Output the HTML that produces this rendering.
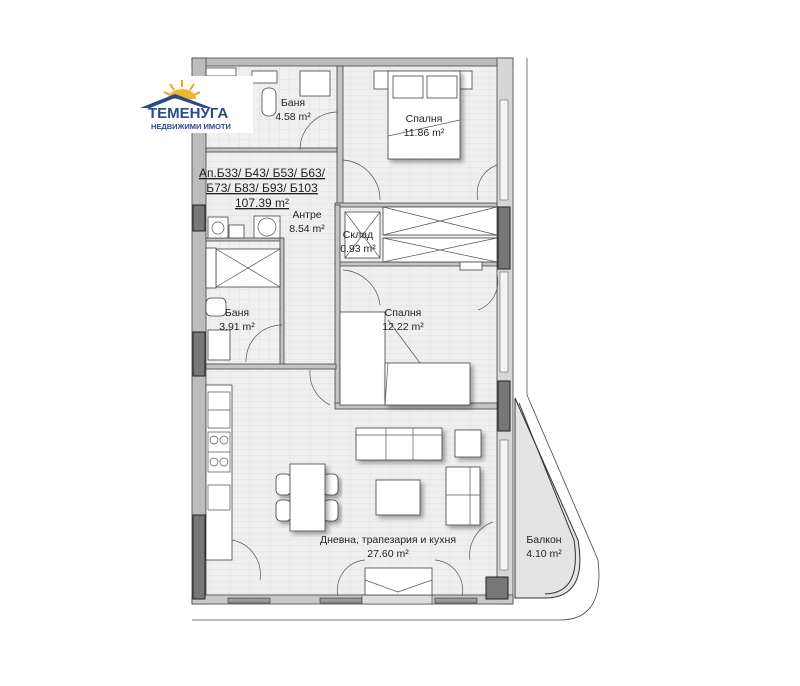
<!DOCTYPE html>
<html><head><meta charset="utf-8"><style>
html,body{margin:0;padding:0;background:#fff;}
svg{display:block}
text{font-family:"Liberation Sans",sans-serif;fill:#222;}
</style></head><body>
<svg width="800" height="686" viewBox="0 0 800 686" xmlns="http://www.w3.org/2000/svg">
<defs>
<filter id="sh" x="-20%" y="-20%" width="150%" height="150%"><feDropShadow dx="3" dy="3" stdDeviation="2.5" flood-color="#000" flood-opacity="0.35"/></filter>
<pattern id="fl" width="20" height="6" patternUnits="userSpaceOnUse"><rect width="20" height="6" fill="#efefef"/><path d="M0 5.5H20M10 0V6" stroke="#e2e2e2" stroke-width="0.6"/></pattern>
<pattern id="tl" width="10" height="10" patternUnits="userSpaceOnUse"><rect width="10" height="10" fill="#f0f0f0"/><path d="M0 9.5H10M9.5 0V10" stroke="#e0e0e0" stroke-width="0.6"/></pattern>
</defs>
<!-- balcony -->
<path d="M515 398 L578 540 Q588 598 545 598 L515 598 Z" fill="#e4e4e4" stroke="#333" stroke-width="1"/>
<path d="M519 403 L574 540 Q582 593 545 594" fill="none" stroke="#333" stroke-width="1"/>
<path d="M527 395 L598 560 Q605 620 560 620 L192 620" fill="none" stroke="#444" stroke-width="0.8"/>
<line x1="527" y1="58" x2="527" y2="395" stroke="#555" stroke-width="0.8"/>
<!-- floors -->
<rect x="206" y="66" width="292" height="530" fill="url(#fl)"/>
<rect x="206" y="66" width="131" height="84" fill="url(#tl)"/>
<rect x="206" y="240" width="74" height="120" fill="url(#tl)"/>
<!-- outer walls -->
<rect x="192" y="58" width="321" height="8" fill="#bcbcbc" stroke="#444" stroke-width="0.8"/>
<rect x="192" y="58" width="14" height="546" fill="#bcbcbc" stroke="#444" stroke-width="0.8"/>
<rect x="497" y="58" width="16" height="546" fill="#d6d6d6" stroke="#444" stroke-width="0.8"/>
<rect x="192" y="595" width="321" height="9" fill="#c8c8c8" stroke="#444" stroke-width="0.8"/>
<!-- dark window jambs -->
<rect x="193" y="205" width="12" height="26" fill="#777" stroke="#222"/>
<rect x="193" y="332" width="12" height="44" fill="#777" stroke="#222"/>
<rect x="193" y="515" width="12" height="84" fill="#777" stroke="#222"/>
<rect x="498" y="207" width="12" height="62" fill="#777" stroke="#222"/>
<rect x="498" y="381" width="12" height="50" fill="#777" stroke="#222"/>
<rect x="486" y="577" width="22" height="22" fill="#777" stroke="#222"/>
<!-- windows in right wall (light) -->
<rect x="500" y="100" width="8" height="100" fill="#f4f4f4" stroke="#666" stroke-width="0.6"/>
<rect x="500" y="272" width="8" height="100" fill="#f4f4f4" stroke="#666" stroke-width="0.6"/>
<rect x="500" y="440" width="8" height="130" fill="#f4f4f4" stroke="#666" stroke-width="0.6"/>
<!-- bottom windows -->
<rect x="228" y="598" width="42" height="5" fill="#999" stroke="#333" stroke-width="0.6"/>
<rect x="320" y="598" width="42" height="5" fill="#999" stroke="#333" stroke-width="0.6"/>
<rect x="362" y="595" width="70" height="9" fill="#ddd" stroke="#333" stroke-width="0.6"/>
<rect x="435" y="598" width="42" height="5" fill="#999" stroke="#333" stroke-width="0.6"/>
<!-- interior walls -->
<g fill="#c4c4c4" stroke="#444" stroke-width="0.8">
<rect x="337" y="66" width="6" height="140"/>
<rect x="206" y="148" width="131" height="4"/>
<rect x="335" y="203" width="162" height="4"/>
<rect x="335" y="262" width="162" height="4"/>
<rect x="335" y="205" width="5" height="200"/>
<rect x="335" y="403" width="162" height="6"/>
<rect x="206" y="238" width="76" height="3"/>
<rect x="280" y="238" width="4" height="128"/>
<rect x="206" y="364" width="130" height="5"/>
</g>
<!-- bath1 fixtures -->
<g fill="#fff" stroke="#444" stroke-width="0.8">
<rect x="252" y="71" width="25" height="12"/>
<rect x="300" y="71" width="30" height="25"/>
<rect x="262" y="88" width="14" height="28" rx="6"/>
<rect x="206" y="68" width="30" height="8"/>
<!-- wardrobe & storage -->
<rect x="383" y="207" width="114" height="28"/>
<rect x="383" y="238" width="114" height="24"/>
<rect x="460" y="262" width="22" height="8"/>
<rect x="345" y="212" width="35" height="46"/>
<!-- washer -->
<rect x="208" y="217" width="20" height="21"/>
<rect x="229" y="225" width="15" height="13"/>
<rect x="254" y="216" width="26" height="22"/>
<!-- bath2 -->
<rect x="216" y="249" width="64" height="38"/>
<rect x="206" y="248" width="10" height="40"/>
<rect x="206" y="298" width="20" height="18" rx="5"/>
<rect x="208" y="330" width="22" height="30"/>
<!-- bed1 -->
<rect x="374" y="71" width="20" height="18"/>
<rect x="452" y="71" width="20" height="18"/>
<rect x="388" y="71" width="72" height="88" filter="url(#sh)"/>
<rect x="393" y="76" width="30" height="22"/>
<rect x="427" y="76" width="30" height="22"/>
<!-- bed2 -->
<rect x="340" y="312" width="45" height="93"/>
<rect x="385" y="363" width="85" height="42" filter="url(#sh)"/>
<!-- kitchen -->
<rect x="206" y="385" width="26" height="175"/>
<rect x="356" y="428" width="86" height="32" filter="url(#sh)"/>
<rect x="455" y="430" width="26" height="27" filter="url(#sh)"/>
<rect x="446" y="467" width="34" height="58" filter="url(#sh)"/>
<rect x="376" y="480" width="44" height="35" filter="url(#sh)"/>
<rect x="276" y="474" width="15" height="21" rx="5" filter="url(#sh)"/>
<rect x="276" y="500" width="15" height="21" rx="5" filter="url(#sh)"/>
<rect x="323" y="474" width="15" height="21" rx="5" filter="url(#sh)"/>
<rect x="323" y="500" width="15" height="21" rx="5" filter="url(#sh)"/>
<rect x="290" y="464" width="35" height="67" filter="url(#sh)"/>
<rect x="365" y="568" width="67" height="27"/>
</g>
<g fill="none" stroke="#555" stroke-width="0.7">
<path d="M216 249L280 287M280 249L216 287M383 207L497 235M497 207L383 235M383 238L497 262M497 238L383 262M345 212L380 258M380 212L345 258M388 136L460 120M388 363L385 405M388 320L420 363"/>
<circle cx="218" cy="228" r="6"/><circle cx="267" cy="227" r="9"/>
<path d="M386 428V460M413 428V460M442 435H356M470 467V525M446 495H480"/>
<path d="M208 392h22v36h-22zM208 410h22M208 432h22v40h-22zM208 452h22"/>
<circle cx="214" cy="440" r="4"/><circle cx="224" cy="440" r="4"/><circle cx="214" cy="462" r="4"/><circle cx="224" cy="462" r="4"/>
<path d="M208 485h22v25h-22z"/>
<!-- door arcs -->
<path d="M337 112 A38 38 0 0 0 300 150M343 160 A40 40 0 0 1 380 200M343 270 A40 40 0 0 1 380 305M282 325 A36 36 0 0 0 246 362M310 370 A36 36 0 0 0 330 405M232 540 A35 35 0 0 1 260 580M493 522 A35 35 0 0 0 470 560M365 560 A30 30 0 0 0 338 596M435 560 A30 30 0 0 1 462 596M365 580L398 592L432 580"/>
<path d="M497 165 A30 30 0 0 0 478 200M497 275 A30 30 0 0 1 478 310"/>
</g>
<!-- logo -->
<rect x="141" y="76" width="112" height="57" fill="#fff"/>
<g stroke="#e8a21c" stroke-width="2"><path d="M182 80v7M170 84l4 6M194 84l-4 6M164 92l6 3M200 92l-6 3"/></g>
<path d="M168 99 A14 10 0 0 1 196 99Z" fill="#f3b62a"/>
<path d="M140 108 L175 94 L212 108 L204 108 L175 98 L150 108Z" fill="#2a4a8c"/>
<text x="148" y="118" font-size="15" font-weight="bold" fill="#2a4a8c" style="fill:#2a4a8c">ТЕМЕНУГА</text>
<text x="151" y="129" font-size="7.5" font-weight="bold" style="fill:#2a4a8c">НЕДВИЖИМИ ИМОТИ</text>
<!-- labels -->
<g font-size="10.5" text-anchor="middle">
<text x="293" y="106">Баня</text><text x="293" y="120">4.58 m²</text>
<text x="424" y="122">Спалня</text><text x="424" y="136">11.86 m²</text>
<text x="307" y="218">Антре</text><text x="307" y="232">8.54 m²</text>
<text x="358" y="238">Склад</text><text x="358" y="252">0.93 m²</text>
<text x="237" y="316">Баня</text><text x="237" y="330">3.91 m²</text>
<text x="403" y="316">Спалня</text><text x="403" y="330">12.22 m²</text>
<text x="388" y="543">Дневна, трапезария и кухня</text><text x="388" y="557">27.60 m²</text>
<text x="544" y="543">Балкон</text><text x="544" y="557">4.10 m²</text>
</g>
<g font-size="12" text-anchor="middle" text-decoration="underline">
<text x="262" y="177" text-decoration="underline">Ап.Б33/ Б43/ Б53/ Б63/</text>
<text x="262" y="192" text-decoration="underline">Б73/ Б83/ Б93/ Б103</text>
<text x="262" y="207" text-decoration="underline">107.39 m²</text>
</g>
</svg>
</body></html>
